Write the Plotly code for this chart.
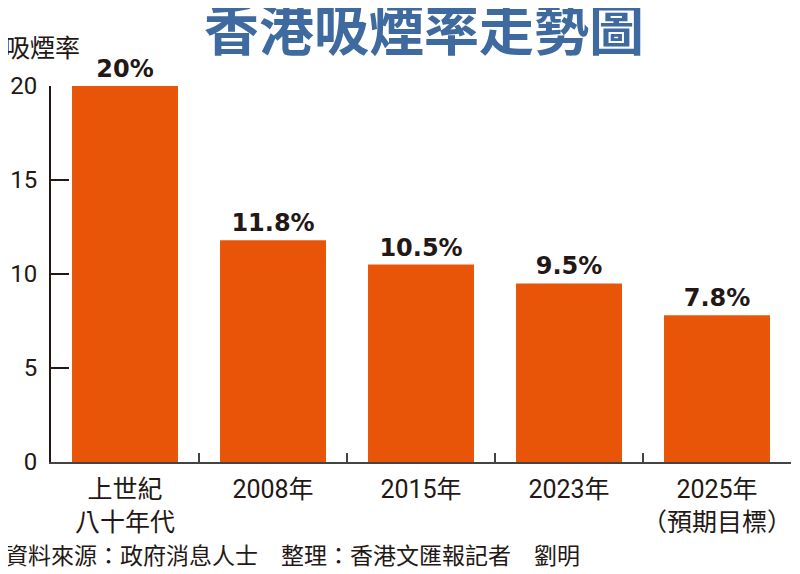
import plotly.graph_objects as go

# data
categories = ["上世紀<br>八十年代", "2008年", "2015年", "2023年", "2025年<br>（預期目標）"]
rates = [20, 11.8, 10.5, 9.5, 7.8]
rate_labels = ["20%", "11.8%", "10.5%", "9.5%", "7.8%"]
y_ticks = [0, 5, 10, 15, 20]

TXT = "#231815"
BAR = "#E85508"
BLUE = "#3F6AA0"

fig = go.Figure()
fig.add_trace(go.Bar(
    x=categories,
    y=rates,
    marker=dict(color=BAR, line=dict(width=0)),
    text=rate_labels,
    textposition="outside",
    cliponaxis=False,
    textfont=dict(family="DejaVu Sans", size=24, color=TXT),
    texttemplate="<b>%{text}</b>",
))

# page body adds an 8px offset, so the figure is a bit smaller than the window
fig.update_layout(
    width=792,
    height=566,
    margin=dict(l=43, r=9, t=78, b=112),
    paper_bgcolor="white",
    plot_bgcolor="white",
    bargap=0.284,
    showlegend=False,
    xaxis=dict(
        type="category",
        range=[-0.5, 4.5],
        tickson="boundaries",
        ticks="inside",
        ticklen=9,
        tickwidth=2,
        tickcolor="#444",
        tickangle=0,
        automargin=False,
        showline=True,
        linecolor="#444",
        linewidth=2,
        showgrid=False,
        ticklabelstandoff=4,
        tickfont=dict(family="Roboto, Noto Sans CJK TC", size=25, color=TXT),
    ),
    yaxis=dict(
        range=[0, 20],
        tickvals=y_ticks,
        ticks="inside",
        ticklen=18,
        tickwidth=2,
        tickcolor=TXT,
        automargin=False,
        showline=True,
        linecolor=TXT,
        linewidth=2,
        showgrid=False,
        zeroline=False,
        ticklabelstandoff=7,
        tickfont=dict(family="Roboto", size=24, color=TXT),
    ),
)

fig.add_annotation(
    text="<b>香港吸煙率走勢圖</b>", xref="paper", yref="paper", x=0.504, y=1.16,
    xanchor="center", yanchor="middle", showarrow=False,
    font=dict(family="Noto Sans CJK TC", size=55, color=BLUE),
)
fig.add_annotation(
    text="吸煙率", xref="paper", yref="paper", x=-0.065, y=1.106,
    xanchor="left", yanchor="middle", showarrow=False,
    font=dict(family="Noto Sans CJK TC", size=25, color=TXT),
)
fig.add_annotation(
    text="資料來源：政府消息人士　整理：香港文匯報記者　劉明",
    xref="paper", yref="paper", x=-0.065, y=-0.245,
    xanchor="left", yanchor="middle", showarrow=False,
    font=dict(family="Noto Sans CJK TC", size=23, color=TXT),
)

fig.write_html("out.html")
